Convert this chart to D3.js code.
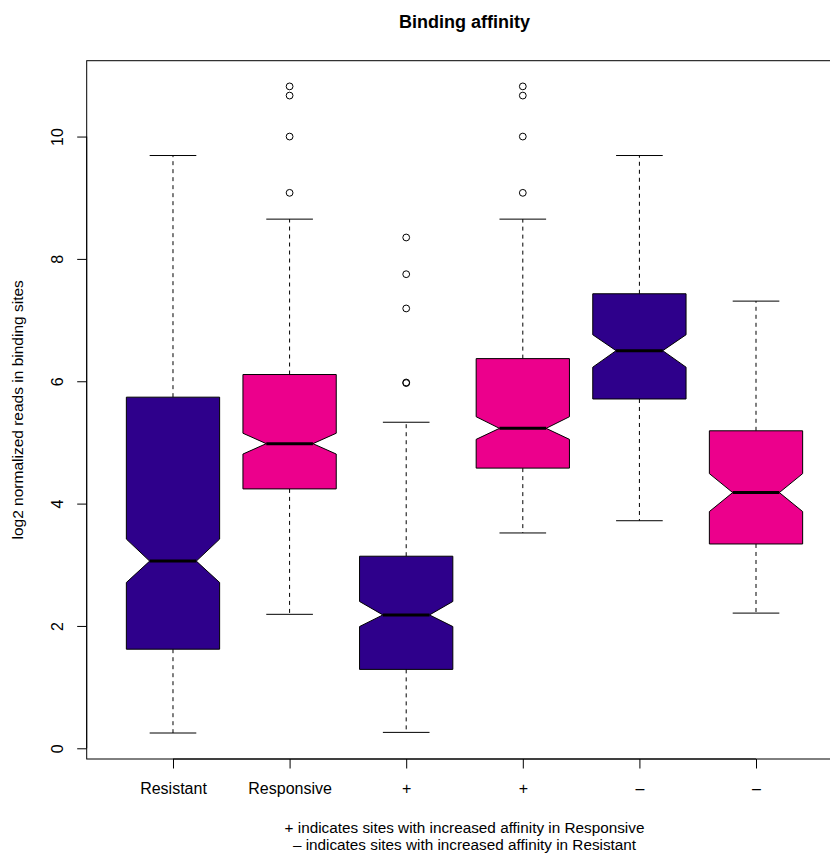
<!DOCTYPE html>
<html>
<head>
<meta charset="utf-8">
<script src="https://cdn.jsdelivr.net/npm/d3@7"></script>
<style>
  html, body { margin: 0; padding: 0; background: #fff; }
  svg { display: block; font-family: "Liberation Sans", Arial, Helvetica, sans-serif; }
</style>
</head>
<body>
<svg id="chart" width="830" height="855"></svg>
<script>
// ---- data ----
const categories = ["Resistant", "Responsive", "+", "+", "–", "–"];
const groupColor = ["#2E008B", "#EC008C", "#2E008B", "#EC008C", "#2E008B", "#EC008C"];
const whiskerLow  = [0.25, 2.19, 0.26, 3.52, 3.72, 2.21];
const q1          = [1.62, 4.24, 1.29, 4.58, 5.71, 3.34];
const notchLow    = [2.71, 4.81, 1.99, 5.05, 6.23, 3.87];
const median      = [3.06, 4.98, 2.18, 5.23, 6.50, 4.18];
const notchHigh   = [3.42, 5.15, 2.40, 5.42, 6.76, 4.49];
const q3          = [5.74, 6.11, 3.14, 6.37, 7.43, 5.19];
const whiskerHigh = [9.69, 8.65, 5.33, 8.65, 9.69, 7.31];
const outliers = [
  [],
  [10.82, 10.67, 10.0, 9.08],
  [8.35, 7.75, 7.19, 5.98, 5.97],
  [10.82, 10.67, 10.0, 9.08],
  [],
  []
];
const yTicks = [0, 2, 4, 6, 8, 10];
const titleText = "Binding affinity";
const yLabel = "log2 normalized reads in binding sites";
const footnotes = ["+ indicates sites with increased affinity in Responsive",
                   "– indicates sites with increased affinity in Resistant"];

// ---- layout ----
const svg = d3.select("#chart");
const plotL = 86.7, plotR = 842.3, plotT = 60.7, plotB = 759;
const x = d3.scaleLinear().domain([0.26, 6.74]).range([plotL, plotR]);
const y = d3.scaleLinear().domain([-0.175, 11.24]).range([plotB, plotT]);
const boxW = x(1.8) - x(1);        // 0.8 units
const capW = boxW / 2;

const g = svg.append("g");

// boxes
categories.forEach((c, i) => {
  const cx = x(i + 1);
  const hw = boxW / 2, qw = boxW / 4;
  g.append("line").attr("x1", cx).attr("x2", cx)
    .attr("y1", y(q3[i])).attr("y2", y(whiskerHigh[i]))
    .attr("stroke", "#000").attr("stroke-dasharray", "4,4");
  g.append("line").attr("x1", cx).attr("x2", cx)
    .attr("y1", y(q1[i])).attr("y2", y(whiskerLow[i]))
    .attr("stroke", "#000").attr("stroke-dasharray", "4,4");
  [whiskerHigh[i], whiskerLow[i]].forEach(v => {
    g.append("line").attr("x1", cx - capW / 2).attr("x2", cx + capW / 2)
      .attr("y1", y(v)).attr("y2", y(v)).attr("stroke", "#000");
  });
  const pts = [
    [cx - hw, y(q1[i])], [cx - hw, y(notchLow[i])], [cx - qw, y(median[i])],
    [cx - hw, y(notchHigh[i])], [cx - hw, y(q3[i])], [cx + hw, y(q3[i])],
    [cx + hw, y(notchHigh[i])], [cx + qw, y(median[i])], [cx + hw, y(notchLow[i])],
    [cx + hw, y(q1[i])]
  ];
  g.append("polygon").attr("points", pts.map(p => p.join(",")).join(" "))
    .attr("fill", groupColor[i]).attr("stroke", "#000").attr("stroke-width", 1);
  g.append("line").attr("x1", cx - qw).attr("x2", cx + qw)
    .attr("y1", y(median[i])).attr("y2", y(median[i]))
    .attr("stroke", "#000").attr("stroke-width", 3);
  outliers[i].forEach(v => {
    g.append("circle").attr("cx", cx).attr("cy", y(v)).attr("r", 3.4)
      .attr("fill", "none").attr("stroke", "#000").attr("stroke-width", 1);
  });
});

// frame
svg.append("rect").attr("x", plotL).attr("y", plotT)
  .attr("width", plotR - plotL).attr("height", plotB - plotT)
  .attr("fill", "none").attr("stroke", "#000").attr("stroke-width", 1);

// y axis
const yAxis = d3.axisLeft(y).tickValues(yTicks).tickSize(9.5).tickPadding(0).tickFormat(d3.format("d"));
const ya = svg.append("g").attr("transform", `translate(${plotL},0)`).call(yAxis);
ya.select(".domain").attr("d", `M-0,${y(0)}V${y(10)}`).attr("stroke", "#000");
ya.selectAll(".tick line").attr("stroke", "#000");
ya.selectAll(".tick text")
  .attr("x", 0).attr("dy", null).attr("y", 0)
  .attr("transform", "translate(-24,0) rotate(-90)")
  .attr("text-anchor", "middle")
  .style("font-size", "16px").attr("fill", "#000").style("font-family", "Liberation Sans, Arial, sans-serif");

// x axis
const xAxis = d3.axisBottom(x).tickValues(d3.range(1, 7)).tickSize(9.5).tickPadding(0)
  .tickFormat(d => categories[d - 1]);
const xa = svg.append("g").attr("transform", `translate(0,${plotB})`).call(xAxis);
xa.select(".domain").attr("d", `M${x(1)},0H${x(6)}`).attr("stroke", "#000");
xa.selectAll(".tick line").attr("stroke", "#000");
xa.selectAll(".tick text").attr("y", 35).attr("dy", null)
  .style("font-size", "16px").attr("fill", "#000").style("font-family", "Liberation Sans, Arial, sans-serif");

// title
const midX = (plotL + plotR) / 2;
svg.append("text").attr("x", midX).attr("y", 28).attr("text-anchor", "middle")
  .style("font-size", "18px").style("font-weight", "bold").text(titleText);

// y label
svg.append("text").attr("transform", `translate(23,${(plotT + plotB) / 2}) rotate(-90)`)
  .attr("text-anchor", "middle").style("font-size", "15.5px").text(yLabel);

// footnotes
footnotes.forEach((t, i) => {
  svg.append("text").attr("x", midX).attr("y", 833 + i * 17).attr("text-anchor", "middle")
    .style("font-size", "15.3px").text(t);
});
</script>
</body>
</html>
